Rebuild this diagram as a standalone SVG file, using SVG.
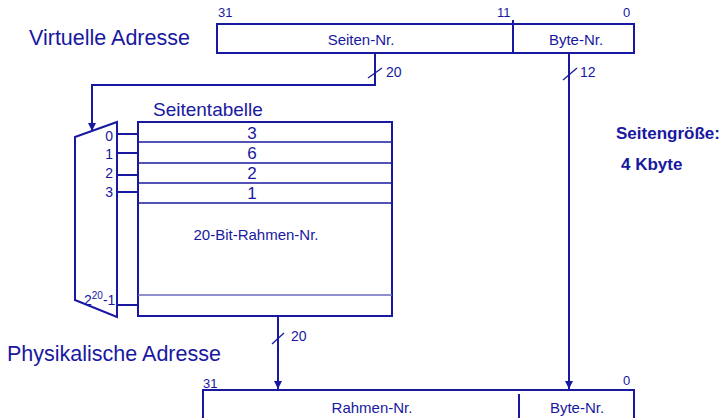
<svg xmlns="http://www.w3.org/2000/svg" width="722" height="418" viewBox="0 0 722 418">
<defs>
<style>
text{font-family:"Liberation Sans",Arial,sans-serif;fill:#1818a0}
.big{font-size:21.5px}
.mid{font-size:19px}
.dig{font-size:17px}
.md{font-size:15px}
.sm{font-size:14px}
.bn{font-size:13px}
.b{font-weight:bold;font-size:17px}
.ln{stroke:#1818a0;stroke-width:2;fill:none}
.thin{stroke:#1818a0;stroke-width:1.3;fill:none}
.lt{stroke:#6a6ac0;stroke-width:1.3;fill:none}
</style>
<marker id="ah" viewBox="0 0 10 10" refX="10" refY="5" markerWidth="8" markerHeight="8" markerUnits="userSpaceOnUse" orient="auto">
<path d="M0,0 L10,5 L0,10 z" fill="#1818a0"/>
</marker>
</defs>
<rect width="722" height="418" fill="#fff"/>
<text class="big" x="29" y="45">Virtuelle Adresse</text>
<text class="big" x="7" y="361">Physikalische Adresse</text>
<g id="vaddr">
<rect class="ln" x="217" y="24" width="417" height="29"/>
<line class="ln" x1="513" y1="20" x2="513" y2="53"/>
<text class="md" x="361" y="45" text-anchor="middle">Seiten-Nr.</text>
<text class="md" x="576" y="45" text-anchor="middle">Byte-Nr.</text>
<text class="bn" x="218" y="17">31</text>
<text class="bn" x="497" y="17">11</text>
<text class="bn" x="623" y="17">0</text>
</g>
<g id="mux">
<path class="ln" d="M75,137 L117,122 L117,317 L75,300 Z"/>
<text class="sm" x="113" y="141" text-anchor="end">0</text>
<text class="sm" x="113" y="159" text-anchor="end">1</text>
<text class="sm" x="113" y="178" text-anchor="end">2</text>
<text class="sm" x="113" y="197" text-anchor="end">3</text>
<text class="sm" x="84" y="305">2<tspan font-size="10" dy="-6">20</tspan><tspan dy="6">-1</tspan></text>
</g>
<g id="table">
<text class="mid" x="153" y="116">Seitentabelle</text>
<rect class="ln" x="138" y="122" width="254" height="194"/>
<line class="thin" x1="138" y1="142" x2="392" y2="142"/>
<line class="thin" x1="138" y1="163" x2="392" y2="163"/>
<line class="thin" x1="138" y1="183" x2="392" y2="183"/>
<line class="thin" x1="138" y1="203" x2="392" y2="203"/>
<line class="lt" x1="138" y1="295" x2="392" y2="295"/>
<text class="dig" x="252" y="139" text-anchor="middle">3</text>
<text class="dig" x="252" y="159" text-anchor="middle">6</text>
<text class="dig" x="252" y="179" text-anchor="middle">2</text>
<text class="dig" x="252" y="199" text-anchor="middle">1</text>
<text class="md" x="256" y="240" text-anchor="middle">20-Bit-Rahmen-Nr.</text>
</g>
<g id="paddr">
<path class="ln" d="M203,418 L203,390 L634,390 L634,418"/>
<line class="ln" x1="519" y1="394" x2="519" y2="418"/>
<text class="md" x="372" y="413" text-anchor="middle">Rahmen-Nr.</text>
<text class="md" x="577" y="413" text-anchor="middle">Byte-Nr.</text>
<text class="bn" x="203" y="388">31</text>
<text class="bn" x="623" y="385">0</text>
</g>
<g id="note">
<text class="b" x="616" y="139">Seitengröße:</text>
<text class="b" x="621" y="170">4 Kbyte</text>
</g>
<g id="connectors">
<path class="ln" d="M375,53 L375,85 L92,85 L92,131" marker-end="url(#ah)"/>
<line class="ln" x1="569" y1="53" x2="569" y2="389" marker-end="url(#ah)"/>
<line class="ln" x1="278" y1="316" x2="278" y2="389" marker-end="url(#ah)"/>
<line class="thin" x1="368" y1="78" x2="382" y2="68"/>
<line class="thin" x1="563" y1="80" x2="577" y2="68"/>
<line class="thin" x1="272" y1="344" x2="284" y2="333"/>
<text class="sm" x="386" y="77">20</text>
<text class="sm" x="580" y="77">12</text>
<text class="sm" x="291" y="341">20</text>
<line class="ln" x1="117" y1="134" x2="138" y2="134"/>
<line class="ln" x1="117" y1="153" x2="138" y2="153"/>
<line class="ln" x1="117" y1="175" x2="138" y2="175"/>
<line class="ln" x1="117" y1="192" x2="138" y2="192"/>
<line class="ln" x1="117" y1="305" x2="138" y2="305"/>
</g>
</svg>
